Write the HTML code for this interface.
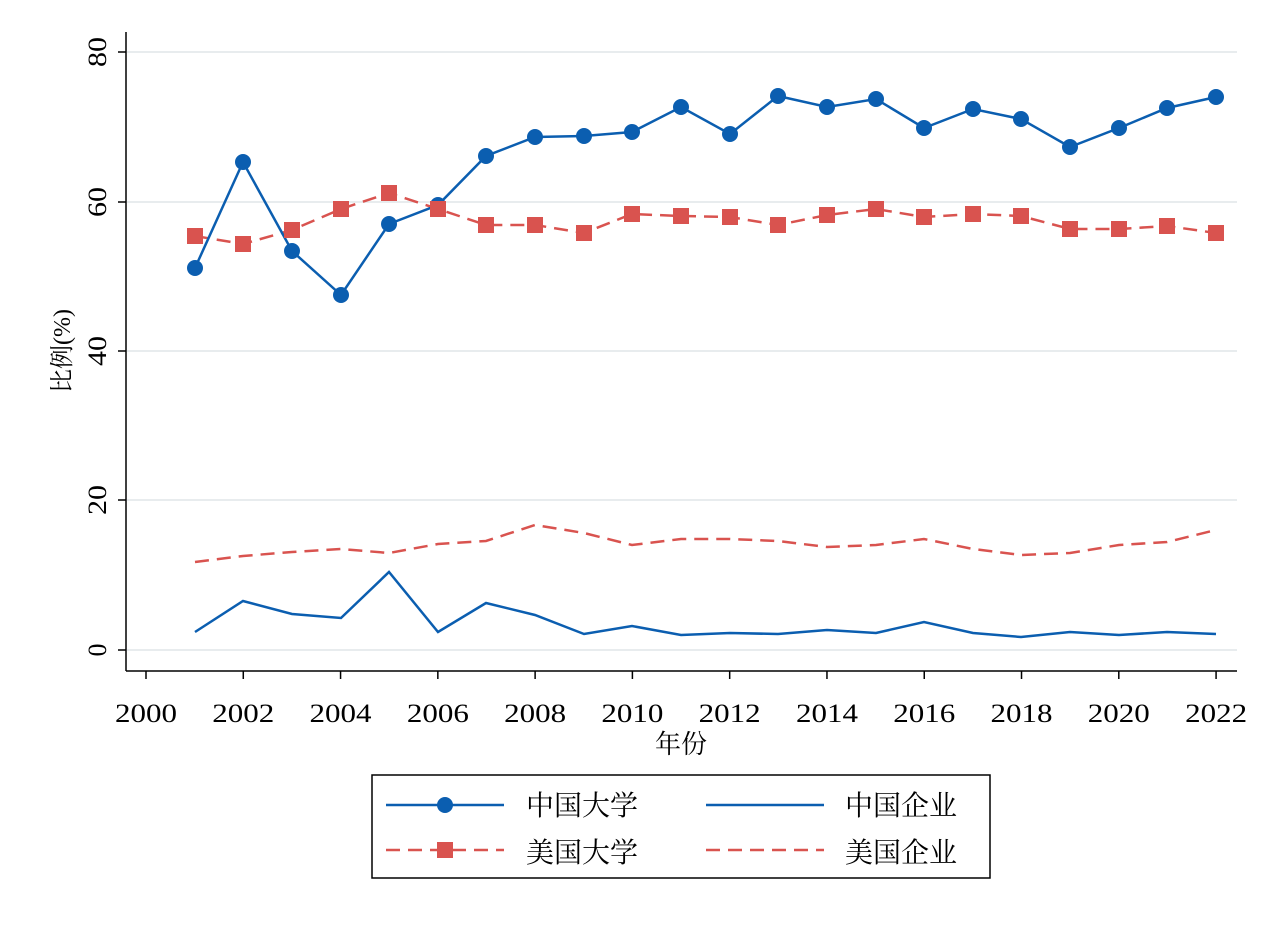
<!DOCTYPE html>
<html><head><meta charset="utf-8"><style>body{margin:0;background:#fff}</style></head><body>
<svg width="1270" height="923" xmlns="http://www.w3.org/2000/svg" font-family="Liberation Serif, Noto Serif CJK SC, serif">
<rect width="1270" height="923" fill="#fff"/>
<g stroke="#e8ecee" stroke-width="2">
<line x1="127" y1="52" x2="1237" y2="52"/><line x1="127" y1="202" x2="1237" y2="202"/>
<line x1="127" y1="351" x2="1237" y2="351"/><line x1="127" y1="500" x2="1237" y2="500"/>
<line x1="127" y1="650" x2="1237" y2="650"/></g>
<g stroke="#000" stroke-width="1.5">
<line x1="126" y1="32" x2="126" y2="671"/><line x1="126" y1="671" x2="1237" y2="671"/>
<line x1="118" y1="52" x2="126" y2="52"/><line x1="118" y1="202" x2="126" y2="202"/><line x1="118" y1="351" x2="126" y2="351"/><line x1="118" y1="500" x2="126" y2="500"/><line x1="118" y1="650" x2="126" y2="650"/>
</g>
<g id="xt" stroke="#000" stroke-width="1.5"></g>
<g font-size="26" fill="#000" text-anchor="middle">
<text transform="translate(106,52) rotate(-90)" textLength="30" lengthAdjust="spacingAndGlyphs">80</text>
<text transform="translate(106,202) rotate(-90)" textLength="30" lengthAdjust="spacingAndGlyphs">60</text>
<text transform="translate(106,351) rotate(-90)" textLength="30" lengthAdjust="spacingAndGlyphs">40</text>
<text transform="translate(106,500) rotate(-90)" textLength="30" lengthAdjust="spacingAndGlyphs">20</text>
<text transform="translate(106,650) rotate(-90)">0</text>
<text transform="translate(70,351) rotate(-90)" font-size="24">比例(%)</text>
<text x="681" y="753" font-size="26">年份</text>
</g>
<g id="xl" font-size="26" text-anchor="middle"></g>
<polyline fill="none" stroke="#d9534f" stroke-width="2.5" stroke-dasharray="14,8" points="195,562 243,556 292,552 341,549 389,553 438,544 486,541 535,525 584,533 632,545 681,539 730,539 778,541 827,547 876,545 924,539 973,549 1021,555 1070,553 1119,545 1167,542 1216,530"/>
<polyline fill="none" stroke="#0b5eb0" stroke-width="2.5" points="195,632 243,601 292,614 341,618 389,572 438,632 486,603 535,615 584,634 632,626 681,635 730,633 778,634 827,630 876,633 924,622 973,633 1021,637 1070,632 1119,635 1167,632 1216,634"/>
<polyline id="us" fill="none" stroke="#d9534f" stroke-width="2.5" stroke-dasharray="14,8" points="195,236 243,244 292,230 341,209 389,193 438,209 486,225 535,225 584,233 632,214 681,216 730,217 778,225 827,215 876,209 924,217 973,214 1021,216 1070,229 1119,229 1167,226 1216,233"/>
<polyline id="cn" fill="none" stroke="#0b5eb0" stroke-width="2.5" points="195,268 243,162 292,251 341,295 389,224 438,205 486,156 535,137 584,136 632,132 681,107 730,134 778,96 827,107 876,99 924,128 973,109 1021,119 1070,147 1119,128 1167,108 1216,97"/>
<g id="mk"></g>
<rect x="372" y="775" width="618" height="103" fill="#fff" stroke="#000" stroke-width="1.5"/>
<line x1="386" y1="805" x2="504" y2="805" stroke="#0b5eb0" stroke-width="2.5"/><circle cx="445" cy="805" r="8" fill="#0b5eb0"/>
<line x1="386" y1="850" x2="504" y2="850" stroke="#d9534f" stroke-width="2.5" stroke-dasharray="14,8"/><rect x="437" y="842" width="16" height="16" fill="#d9534f"/>
<line x1="706" y1="805" x2="824" y2="805" stroke="#0b5eb0" stroke-width="2.5"/>
<line x1="706" y1="850" x2="824" y2="850" stroke="#d9534f" stroke-width="2.5" stroke-dasharray="14,8"/>
<g font-size="28"><text x="526" y="815">中国大学</text><text x="526" y="862">美国大学</text><text x="845" y="815">中国企业</text><text x="845" y="862">美国企业</text></g>
</svg>
<script>
var ns="http://www.w3.org/2000/svg",xt=document.getElementById("xt"),xl=document.getElementById("xl"),mk=document.getElementById("mk");
for(var y=2000;y<=2022;y+=2){var x=146+(y-2000)*48.64;var l=document.createElementNS(ns,"line");l.setAttribute("x1",x);l.setAttribute("x2",x);l.setAttribute("y1",671);l.setAttribute("y2",679);xt.appendChild(l);
var t=document.createElementNS(ns,"text");t.setAttribute("x",x);t.setAttribute("y",722);t.setAttribute("textLength",62);t.setAttribute("lengthAdjust","spacingAndGlyphs");t.textContent=y;xl.appendChild(t);}
function pts(id){return document.getElementById(id).getAttribute("points").trim().split(/\s+/).map(function(p){return p.split(",").map(Number)});}
pts("cn").forEach(function(p){var c=document.createElementNS(ns,"circle");c.setAttribute("cx",p[0]);c.setAttribute("cy",p[1]);c.setAttribute("r",8);c.setAttribute("fill","#0b5eb0");mk.appendChild(c);});
pts("us").forEach(function(p){var c=document.createElementNS(ns,"rect");c.setAttribute("x",p[0]-8);c.setAttribute("y",p[1]-8);c.setAttribute("width",16);c.setAttribute("height",16);c.setAttribute("fill","#d9534f");mk.appendChild(c);});
</script>
</body></html>
